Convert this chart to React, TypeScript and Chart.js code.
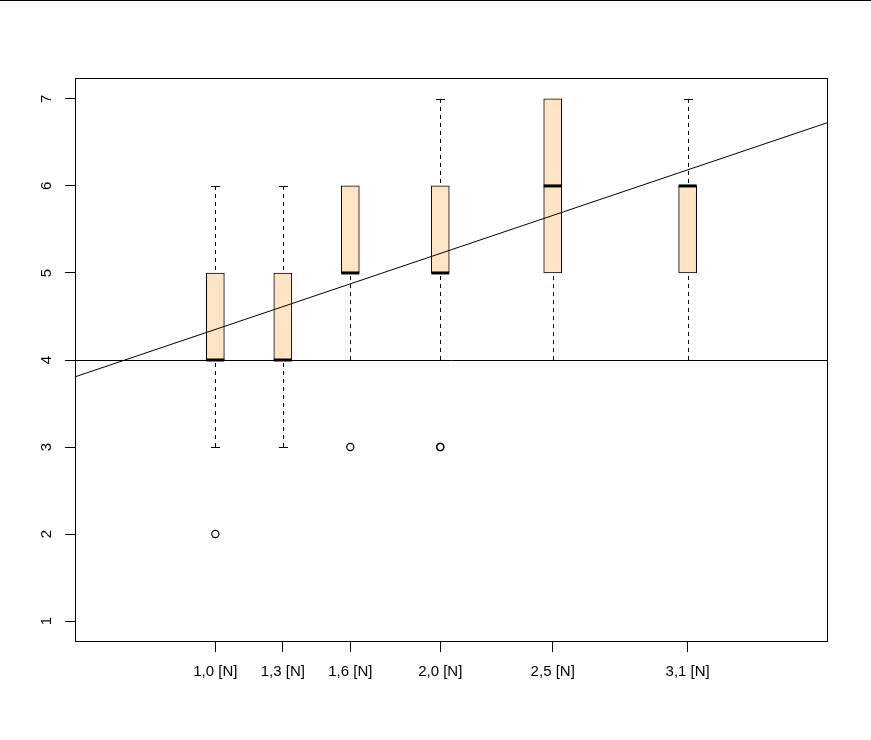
import React, { useEffect, useRef } from "react";
import { Chart, registerables } from "chart.js";

Chart.register(...registerables);

// ---- data ----
const positions = [1.0, 1.3, 1.6, 2.0, 2.5, 3.1];
const tickLabels = ["1,0 [N]", "1,3 [N]", "1,6 [N]", "2,0 [N]", "2,5 [N]", "3,1 [N]"];
const lowerWhisker = [3, 3, 4, 4, 4, 4];
const q1 = [4, 4, 5, 5, 5, 5];
const medians = [4, 4, 5, 5, 6, 6];
const q3 = [5, 5, 6, 6, 7, 6];
const upperWhisker = [6, 6, 6, 7, 7, 7];
const outlierX = [1.0, 1.6, 2.0, 2.0];
const outlierY = [2, 3, 3, 3];
const yTicks = [1, 2, 3, 4, 5, 6, 7];
const hLineValue = 4;
const regIntercept = 3.478;
const regSlope = 0.873;
const xMin = 0.376;
const xMax = 3.724;
const yMin = 0.76;
const yMax = 7.24;

const W = 871;
const H = 740;
const FONT = '15px "Liberation Sans", Arial, sans-serif';

const rPlugin = {
  id: "rStyle",
  beforeDatasetsDraw(chart: any) {
    const { ctx } = chart;
    const x = chart.scales.x;
    const y = chart.scales.y;
    ctx.save();
    ctx.strokeStyle = "#000";
    ctx.lineWidth = 1;
    positions.forEach((p, i) => {
      const px = Math.round(x.getPixelForValue(p)) + 0.5;
      ctx.setLineDash([4, 4]);
      ctx.beginPath();
      ctx.moveTo(px, y.getPixelForValue(lowerWhisker[i]));
      ctx.lineTo(px, y.getPixelForValue(q1[i]));
      ctx.moveTo(px, y.getPixelForValue(upperWhisker[i]));
      ctx.lineTo(px, y.getPixelForValue(q3[i]));
      ctx.stroke();
      ctx.setLineDash([]);
      ctx.beginPath();
      const yl = Math.round(y.getPixelForValue(lowerWhisker[i])) + 0.5;
      const yu = Math.round(y.getPixelForValue(upperWhisker[i])) + 0.5;
      ctx.moveTo(px - 4.5, yl);
      ctx.lineTo(px + 4.5, yl);
      ctx.moveTo(px - 4.5, yu);
      ctx.lineTo(px + 4.5, yu);
      ctx.stroke();
    });
    ctx.restore();
  },
  afterDatasetsDraw(chart: any) {
    const { ctx, chartArea } = chart;
    const x = chart.scales.x;
    const y = chart.scales.y;
    ctx.save();
    ctx.fillStyle = "#000";
    // medians
    positions.forEach((p, i) => {
      const px = x.getPixelForValue(p);
      const py = y.getPixelForValue(medians[i]);
      ctx.fillRect(px - 9, py - 1.5, 18, 3);
    });
    // ablines
    ctx.save();
    ctx.beginPath();
    ctx.rect(chartArea.left, chartArea.top, chartArea.right - chartArea.left, chartArea.bottom - chartArea.top);
    ctx.clip();
    ctx.strokeStyle = "#000";
    ctx.lineWidth = 1;
    const hy = Math.round(y.getPixelForValue(hLineValue)) + 0.5;
    ctx.beginPath();
    ctx.moveTo(chartArea.left, hy);
    ctx.lineTo(chartArea.right, hy);
    ctx.stroke();
    ctx.beginPath();
    ctx.moveTo(x.getPixelForValue(xMin), y.getPixelForValue(regIntercept + regSlope * xMin));
    ctx.lineTo(x.getPixelForValue(xMax), y.getPixelForValue(regIntercept + regSlope * xMax));
    ctx.stroke();
    ctx.restore();
    // plot box
    ctx.strokeStyle = "#000";
    ctx.lineWidth = 1;
    ctx.strokeRect(
      chartArea.left + 0.5,
      chartArea.top + 0.5,
      chartArea.right - chartArea.left - 1,
      chartArea.bottom - chartArea.top - 1
    );
    // y labels (rotated, as in R)
    ctx.font = FONT;
    ctx.fillStyle = "#000";
    ctx.textAlign = "center";
    ctx.textBaseline = "middle";
    yTicks.forEach((v) => {
      ctx.save();
      ctx.translate(47, y.getPixelForValue(v));
      ctx.rotate(-Math.PI / 2);
      ctx.fillText(String(v), 0, 0);
      ctx.restore();
    });
    // x labels
    positions.forEach((p, i) => {
      ctx.fillText(tickLabels[i], x.getPixelForValue(p), 672);
    });
    // top rule
    ctx.fillRect(0, 0, W, 1);
    ctx.restore();
  },
};

export default function App() {
  const ref = useRef<HTMLCanvasElement | null>(null);

  useEffect(() => {
    document.body.style.margin = "0";
    const canvas = ref.current;
    if (!canvas) return;
    const chart = new Chart(canvas, {
      type: "scatter",
      data: {
        datasets: [
          {
            type: "scatter",
            data: outlierX.map((v, i) => ({ x: v, y: outlierY[i] })),
            pointStyle: "circle",
            pointRadius: 3.6,
            pointBorderWidth: 1.2,
            borderColor: "#000",
            backgroundColor: "rgba(0,0,0,0)",
            pointBackgroundColor: "rgba(0,0,0,0)",
            pointBorderColor: "#000",
          } as any,
          {
            type: "bar",
            data: positions.map((v, i) => ({ x: v, y: [q1[i], q3[i]] })),
            backgroundColor: "#FFE4C4",
            borderColor: "#000",
            borderWidth: 1,
            borderSkipped: false,
            barThickness: 18,
          } as any,
        ],
      },
      options: {
        responsive: false,
        animation: false,
        devicePixelRatio: 1,
        layout: { padding: { left: 0, top: 78, right: W - 828, bottom: 0 } },
        plugins: { legend: { display: false }, tooltip: { enabled: false } },
        scales: {
          x: {
            type: "linear",
            min: xMin,
            max: xMax,
            offset: false,
            afterBuildTicks: (s: any) => {
              s.ticks = positions.map((v) => ({ value: v }));
            },
            afterFit: (s: any) => {
              s.height = H - 642;
            },
            ticks: { display: false },
            grid: {
              offset: false,
              drawOnChartArea: false,
              drawTicks: true,
              tickLength: 10,
              color: "#000",
              lineWidth: 1,
            },
            border: { display: false },
          },
          y: {
            type: "linear",
            min: yMin,
            max: yMax,
            beginAtZero: false,
            afterBuildTicks: (s: any) => {
              s.ticks = yTicks.map((v) => ({ value: v }));
            },
            afterFit: (s: any) => {
              s.width = 75;
            },
            ticks: { display: false },
            grid: {
              drawOnChartArea: false,
              drawTicks: true,
              tickLength: 10,
              color: "#000",
              lineWidth: 1,
            },
            border: { display: false },
          },
        },
      } as any,
      plugins: [rPlugin],
    });
    return () => chart.destroy();
  }, []);

  return (
    <canvas
      ref={ref}
      width={W}
      height={H}
      style={{ display: "block", width: W, height: H }}
    />
  );
}
